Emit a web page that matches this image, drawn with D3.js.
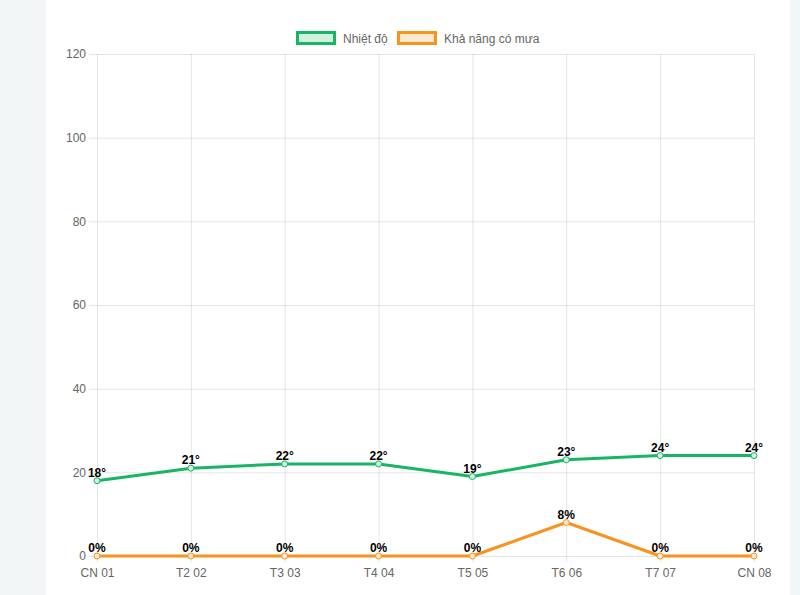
<!DOCTYPE html>
<html><head><meta charset="utf-8">
<script src="https://cdn.jsdelivr.net/npm/d3@7/dist/d3.min.js"></script>
<style>
html,body{margin:0;padding:0;background:#f3f6f7;}
svg{display:block;}
</style></head>
<body>
<svg id="c" width="800" height="595"></svg>
<script>
const categories = ["CN 01","T2 02","T3 03","T4 04","T5 05","T6 06","T7 07","CN 08"];
const temperature = [18,21,22,22,19,23,24,24];
const rainChance = [0,0,0,0,0,8,0,0];
const yTicks = [0,20,40,60,80,100,120];
const seriesNames = ["Nhiệt độ","Khả năng có mưa"];

(function(){
const svg = d3.select("#c");
const font = "'Liberation Sans', Arial, Helvetica, sans-serif";
svg.append("rect").attr("x",46).attr("y",0).attr("width",744).attr("height",595).attr("fill","#fff");

const pLeft=97, pRight=754, pTop=54, pBottom=556;
const x = d3.scalePoint().domain(categories).range([pLeft,pRight]);
const y = d3.scaleLinear().domain([0,120]).range([pBottom,pTop]);
const grid = "rgba(0,0,0,0.1)";

const yAxis = d3.axisLeft(y).tickValues(yTicks).tickSize(-(pRight-pLeft)).tickPadding(10);
const gy = svg.append("g").attr("transform",`translate(${pLeft},0)`).call(yAxis);
gy.select(".domain").remove();
gy.selectAll(".tick line").attr("stroke",grid).attr("x1",-8);
gy.selectAll(".tick text").attr("fill","#666").style("font-family",font).style("font-size","12px").attr("x",-11);

const xAxis = d3.axisBottom(x).tickSize(-(pBottom-pTop)).tickPadding(12);
const gx = svg.append("g").attr("transform",`translate(0,${pBottom})`).call(xAxis);
gx.select(".domain").remove();
gx.selectAll(".tick line").attr("stroke",grid).attr("y1",6);
gx.selectAll(".tick text").attr("fill","#666").style("font-family",font).style("font-size","12px");

const series = [
  {name:seriesNames[0], values:temperature, color:"#18b565", fill:"#d1f0e0", suffix:"°"},
  {name:seriesNames[1], values:rainChance, color:"#f7931e", fill:"#fde9d2", suffix:"%"}
];
const line = d3.line().x((d,i)=>x(categories[i])).y(d=>y(d));
series.forEach(s=>{
  svg.append("path").datum(s.values).attr("d",line).attr("fill","none")
    .attr("stroke",s.color).attr("stroke-width",3).attr("stroke-linejoin","round");
  svg.append("g").selectAll("circle").data(s.values).join("circle")
    .attr("cx",(d,i)=>x(categories[i])).attr("cy",d=>y(d)).attr("r",3)
    .attr("fill",s.fill).attr("stroke",s.color).attr("stroke-width",1);
  svg.append("g").selectAll("text").data(s.values).join("text")
    .attr("x",(d,i)=>x(categories[i])).attr("y",d=>y(d)-4)
    .attr("text-anchor","middle").attr("fill","#000")
    .style("font-family",font).style("font-size","12px").style("font-weight","bold")
    .text(d=>d+s.suffix);
});

const lg = svg.append("g");
const legendItems = [{x:296, s:series[0]},{x:397, s:series[1]}];
legendItems.forEach(it=>{
  lg.append("rect").attr("x",it.x+1.5).attr("y",32.5).attr("width",37).attr("height",11)
    .attr("fill",it.s.fill).attr("stroke",it.s.color).attr("stroke-width",3);
  lg.append("text").attr("x",it.x+47).attr("y",42.5).attr("fill","#666")
    .style("font-family",font).style("font-size","12px").text(it.s.name);
});
})();
</script>
</body></html>
